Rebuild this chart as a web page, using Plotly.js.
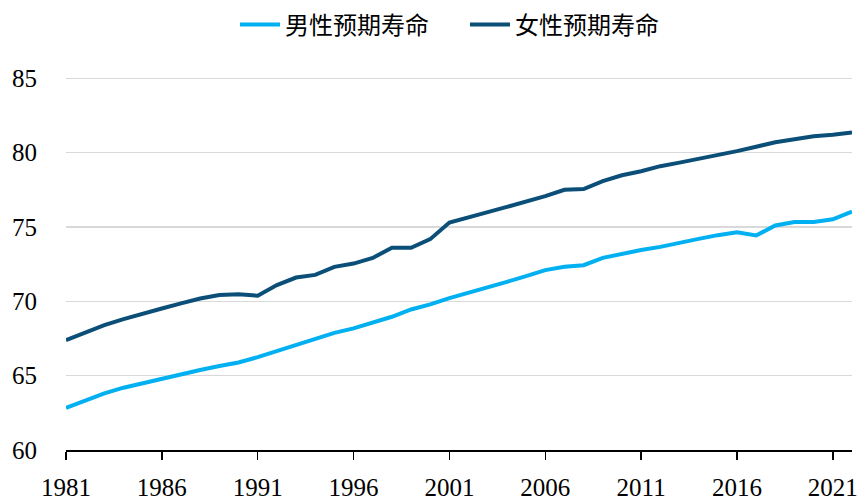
<!DOCTYPE html>
<html>
<head>
<meta charset="utf-8">
<script src="https://cdn.plot.ly/plotly-3.0.1.min.js"></script>
<style>html,body{margin:0;padding:0;background:#fff;}#chart{width:858px;height:499px;}</style>
</head>
<body>
<div id="chart"></div>
<script>
const years = [1981,1982,1983,1984,1985,1986,1987,1988,1989,1990,1991,1992,1993,1994,1995,1996,1997,1998,1999,2000,2001,2002,2003,2004,2005,2006,2007,2008,2009,2010,2011,2012,2013,2014,2015,2016,2017,2018,2019,2020,2021,2022];
const maleLife = [62.84,63.31,63.81,64.19,64.5,64.82,65.08,65.38,65.65,65.89,66.25,66.67,67.06,67.46,67.88,68.18,68.58,68.96,69.45,69.79,70.22,70.57,70.98,71.31,71.69,72.1,72.32,72.43,72.92,73.2,73.45,73.66,73.96,74.2,74.45,74.65,74.43,75.1,75.34,75.34,75.52,76.04];
const femaleLife = [67.39,67.88,68.4,68.8,69.19,69.52,69.86,70.19,70.42,70.48,70.38,71.09,71.6,71.78,72.32,72.54,72.92,73.6,73.6,74.18,75.3,75.68,76.0,76.35,76.71,77.07,77.5,77.55,78.08,78.48,78.75,79.09,79.33,79.58,79.87,80.1,80.4,80.7,80.9,81.1,81.2,81.35];
const seriesNames = ['男性预期寿命','女性预期寿命'];
const xTicks = [1981,1986,1991,1996,2001,2006,2011,2016,2021];
const yTicks = [60,65,70,75,80,85];

const traces = [
  {x: years, y: maleLife, name: seriesNames[0], type: 'scatter', mode: 'lines', line: {color: '#00b0f0', width: 4}},
  {x: years, y: femaleLife, name: seriesNames[1], type: 'scatter', mode: 'lines', line: {color: '#0b4f78', width: 4}}
];

const layout = {
  width: 858, height: 499,
  margin: {l: 66, r: 6, t: 56, b: 49},
  paper_bgcolor: '#fff', plot_bgcolor: '#fff',
  showlegend: true,
  legend: {orientation: 'h', x: 0.215, xanchor: 'left', y: 0.995, yanchor: 'top', yref: 'container',
    entrywidth: 175, entrywidthmode: 'pixels',
    font: {family: 'Noto Sans CJK SC', size: 24, color: '#000'}, traceorder: 'normal', itemwidth: 40},
  xaxis: {
    range: [1981, 2022], tickvals: xTicks, ticktext: xTicks.map(String),
    showgrid: false, zeroline: false, showline: true, linecolor: '#000', linewidth: 1.5,
    ticks: 'outside', ticklen: 8, tickwidth: 1.5, tickcolor: '#000',
    tickfont: {family: 'Liberation Serif', size: 25, color: '#000'}, ticklabelstandoff: 6
  },
  yaxis: {
    range: [60, 86.5], tickvals: yTicks, ticktext: yTicks.map(String),
    showgrid: true, gridcolor: '#d9d9d9', gridwidth: 1.5, zeroline: false, showline: false,
    ticks: '', tickfont: {family: 'Liberation Serif', size: 25, color: '#000'}, ticklabelstandoff: 28
  }
};
Plotly.newPlot('chart', traces, layout, {displayModeBar: false, staticPlot: true});
</script>
</body>
</html>
